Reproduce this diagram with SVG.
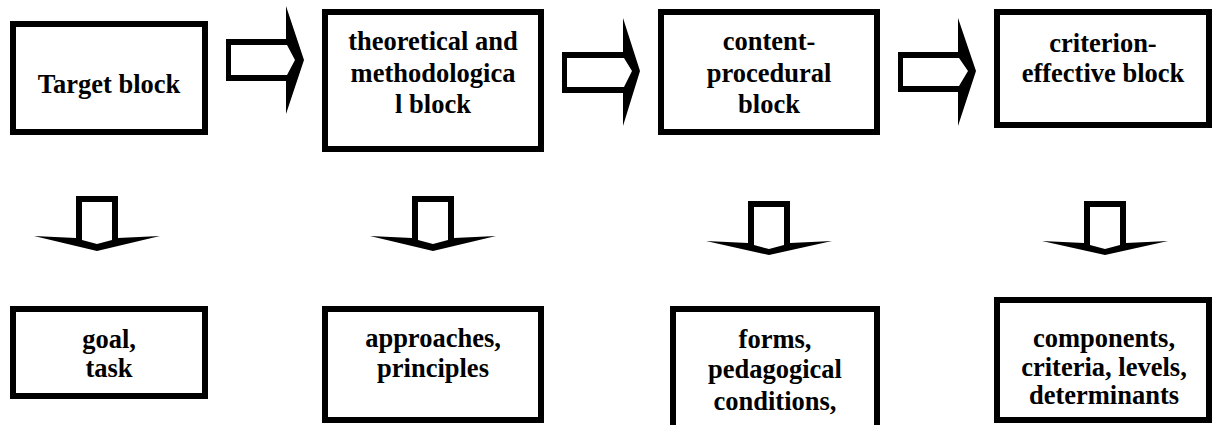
<svg xmlns="http://www.w3.org/2000/svg" width="1212" height="425" viewBox="0 0 1212 425">
<style>
.box{fill:#fff;stroke:#000;stroke-width:6}
.lbl{font-family:'Liberation Serif','Times New Roman',Tinos,'DejaVu Serif','Noto Serif',serif;font-weight:700;font-size:26.5px;fill:#000;text-anchor:middle}
.arr{fill:#000;fill-rule:evenodd;stroke:none}
</style>
<rect width="1212" height="425" fill="#fff"/>
<g id="connectors">
<path class="arr" d="M226,39 H286 V6 L304,60 L286,114 V81 H226 Z M231,45 V75 H287 L295,60 L287,45 Z"/>
<path class="arr" d="M562,52 H623 V18 L640,71 L623,126 V93 H562 Z M567,58 V87 H624 L632,71 L624,58 Z"/>
<path class="arr" d="M898,52 H958 V18 L976,71 L958,126 V92 H898 Z M903,58 V86 H959 L968,71 L959,58 Z"/>
<path class="arr" d="M76,196 H118 V238 L160,236 L97,251 L34,236 L76,238 Z M82,202 V240 L97,244 L112,240 V202 Z"/>
<path class="arr" d="M412,196 H454 V238 L496,236 L433,251 L370,236 L412,238 Z M418,202 V240 L433,244 L448,240 V202 Z"/>
<path class="arr" d="M748,201 H790 V243 L832,241 L769,255 L706,241 L748,243 Z M754,207 V245 L769,249 L784,245 V207 Z"/>
<path class="arr" d="M1084,201 H1126 V243 L1168,241 L1105,255 L1042,241 L1084,243 Z M1090,207 V245 L1105,249 L1120,245 V207 Z"/>
</g>
<g id="target-block">
<rect class="box" x="13" y="24" width="192" height="108"/>
<text class="lbl" x="109" y="93">Target block</text>
</g>
<g id="theoretical-block">
<rect class="box" x="325" y="12" width="216" height="137"/>
<text class="lbl" x="433" y="50">theoretical and</text>
<text class="lbl" x="433" y="82">methodologica</text>
<text class="lbl" x="433" y="113">l block</text>
</g>
<g id="content-block">
<rect class="box" x="661" y="12" width="216" height="120"/>
<text class="lbl" x="769" y="50">content-</text>
<text class="lbl" x="769" y="82">procedural</text>
<text class="lbl" x="769" y="113">block</text>
</g>
<g id="criterion-block">
<rect class="box" x="997" y="12" width="212" height="113"/>
<text class="lbl" x="1103" y="52">criterion-</text>
<text class="lbl" x="1103" y="82">effective block</text>
</g>
<g id="goal-task">
<rect class="box" x="13" y="309" width="192" height="87"/>
<text class="lbl" x="109" y="348">goal,</text>
<text class="lbl" x="109" y="377">task</text>
</g>
<g id="approaches">
<rect class="box" x="325" y="309" width="216" height="111"/>
<text class="lbl" x="433" y="347">approaches,</text>
<text class="lbl" x="433" y="377">principles</text>
</g>
<g id="forms">
<rect class="box" x="673" y="309" width="204" height="200"/>
<text class="lbl" x="775" y="348">forms,</text>
<text class="lbl" x="775" y="378">pedagogical</text>
<text class="lbl" x="775" y="410">conditions,</text>
</g>
<g id="components">
<rect class="box" x="997" y="300" width="212" height="120"/>
<text class="lbl" x="1104" y="347">components,</text>
<text class="lbl" x="1104" y="376">criteria, levels,</text>
<text class="lbl" x="1104" y="404">determinants</text>
</g>
</svg>
